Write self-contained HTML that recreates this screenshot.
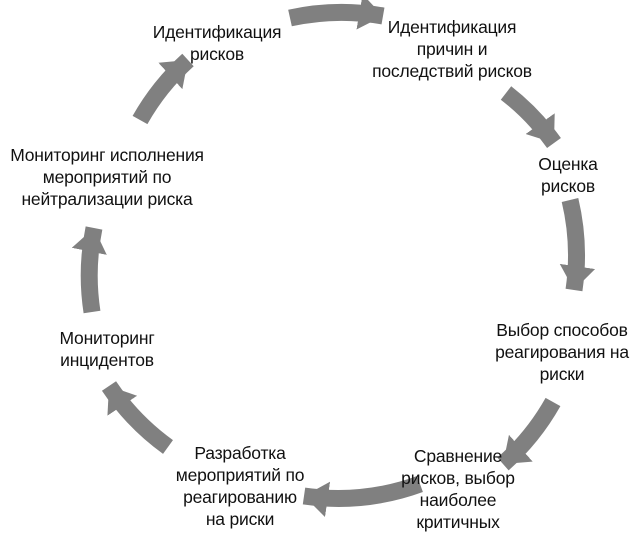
<!DOCTYPE html>
<html><head><meta charset="utf-8"><style>
html,body{margin:0;padding:0;background:#fff;}
body{width:639px;height:539px;position:relative;overflow:hidden;font-family:"Liberation Sans","DejaVu Sans",sans-serif;}
.t{position:absolute;text-align:center;font-size:17.5px;line-height:22px;color:#111;white-space:nowrap;transform:translateX(-50%);letter-spacing:-0.2px;}
svg{position:absolute;left:0;top:0;}
</style></head><body>
<svg width="639" height="539" viewBox="0 0 639 539">
<defs>
<marker id="h" viewBox="0 0 10 10" refX="10" refY="5" markerWidth="1.4" markerHeight="2.1" orient="auto" preserveAspectRatio="none">
<path d="M0,0 L10,5 L0,10 z" fill="#808080"/>
</marker>
</defs>
<g fill="none" stroke="#808080" stroke-width="17" marker-end="url(#h)">
<path d="M290,18 A240 240 0 0 1 383,16"/>
<path d="M506,93 A240 240 0 0 1 554,143"/>
<path d="M570,200 A240 240 0 0 1 574,290"/>
<path d="M553,402 A240 240 0 0 1 503,464"/>
<path d="M420,484 A240 240 0 0 1 304,496"/>
<path d="M168,447 A240 240 0 0 1 109,386"/>
<path d="M92,312 A240 240 0 0 1 94,228"/>
<path d="M140,120 A240 240 0 0 1 188,60"/>
</g>
</svg>
<div class="t" style="left:217px;top:21px">Идентификация<br>рисков</div>
<div class="t" style="left:452px;top:16px">Идентификация<br>причин и<br>последствий рисков</div>
<div class="t" style="left:568px;top:153px">Оценка<br>рисков</div>
<div class="t" style="left:562px;top:319px">Выбор способов<br>реагирования на<br>риски</div>
<div class="t" style="left:458px;top:445px">Сравнение<br>рисков, выбор<br>наиболее<br>критичных</div>
<div class="t" style="left:240px;top:442px">Разработка<br>мероприятий по<br>реагированию<br>на риски</div>
<div class="t" style="left:107px;top:327px">Мониторинг<br>инцидентов</div>
<div class="t" style="left:107px;top:144px">Мониторинг исполнения<br>мероприятий по<br>нейтрализации риска</div>
</body></html>
